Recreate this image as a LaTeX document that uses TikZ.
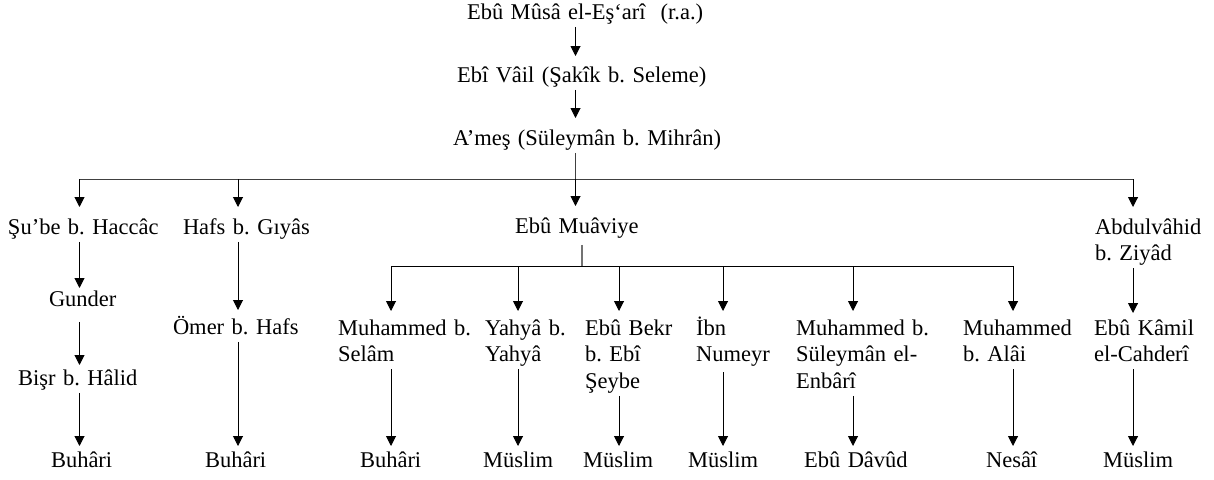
\documentclass[tikz,border=0pt]{standalone}
\usepackage{fontspec}
\setmainfont{Liberation Serif}
\usetikzlibrary{arrows.meta}
\begin{document}
\frenchspacing
\begin{tikzpicture}[x=1pt,y=-1pt,
  lbl/.style={anchor=base west, inner sep=0pt, outer sep=0pt, text width=320pt,
    align=left, font=\fontsize{22.5pt}{26.5pt}\selectfont\frenchspacing,
    text height=21pt, execute at end node=\strut},
  arr/.style={line width=1pt, -{Triangle[length=10pt,width=10pt]}},
  bus/.style={line width=1pt, draw=black!75},
  stub/.style={line width=1.1pt, draw=black!55},
]
\fill[white] (0,0) rectangle (1214,479);
\useasboundingbox (0,0) rectangle (1214,479);

% columns of the connectors
\coordinate (c1) at (79.5,0);
\coordinate (c2) at (238,0);
\coordinate (c3) at (575.5,0);
\coordinate (c4) at (1133,0);
\coordinate (m1) at (391,0);
\coordinate (m2) at (518,0);
\coordinate (m3) at (619,0);
\coordinate (m4) at (723,0);
\coordinate (m5) at (853,0);
\coordinate (m6) at (1013,0);
\coordinate (bus) at (575.5,179);
\coordinate (mbus) at (582,266);

% chain at the top
\node[lbl] (musa) at (467,19) {Ebû Mûsâ el-Eş‘arî\ \ (r.a.)};
\node[lbl, text height=26pt] (vail) at (457,82) {Ebî Vâil (Şakîk b. Seleme)};
\node[lbl, text height=27pt] (ames) at (453,145) {A’meş (Süleymân b. Mihrân)};

% students of A'meş
\node[lbl, text height=27pt] (shube) at (8,234) {Şu’be b. Haccâc};
\node[lbl, text height=27pt] (hafs) at (183,234) {Hafs b. Gıyâs};
\node[lbl, text height=27pt] (muaviye) at (515,233) {Ebû Muâviye};
\node[lbl, text height=27pt] (abdulvahid) at (1095,234) {Abdulvâhid\\b. Ziyâd};

% intermediate narrators
\node[lbl, text height=18pt] (gunder) at (49,306) {Gunder};
\node[lbl, text height=20pt] (bisr) at (18,385) {Bişr b. Hâlid};
\node[lbl, text height=24pt] (omer) at (173,334) {Ömer b. Hafs};
\node[lbl, text height=24pt] (selam) at (338,335) {Muhammed b.\\Selâm};
\node[lbl, text height=24pt] (yahya) at (485,335) {Yahyâ b.\\Yahyâ};
\node[lbl, text height=24pt] (seybe) at (585,335) {Ebû Bekr\\b. Ebî\\Şeybe};
\node[lbl, text height=24pt] (numeyr) at (696,335) {İbn\\Numeyr};
\node[lbl, text height=24pt] (enbari) at (796,335) {Muhammed b.\\Süleymân el-\\Enbârî};
\node[lbl, text height=24pt] (alai) at (963,335) {Muhammed\\b. Alâi};
\node[lbl, text height=22pt] (kamil) at (1094,335) {Ebû Kâmil\\el-Cahderî};

% collections
\node[lbl] (buh1) at (51,467) {Buhâri};
\node[lbl] (buh2) at (205,467) {Buhâri};
\node[lbl] (buh3) at (360,467) {Buhâri};
\node[lbl] (mus1) at (483,467) {Müslim};
\node[lbl] (mus2) at (583,467) {Müslim};
\node[lbl] (mus3) at (688,467) {Müslim};
\node[lbl] (davud) at (804,467) {Ebû Dâvûd};
\node[lbl] (nesai) at (986,467) {Nesâî};
\node[lbl] (mus4) at (1103,467) {Müslim};

% connectors of the top chain
\draw[arr] (musa.south -| c3) -- (vail.north -| c3);
\draw[arr] (vail.south -| c3) -- (ames.north -| c3);
\draw[bus] (ames.south -| c3) -- (bus);
\draw[bus] (bus -| c1) -- (bus -| c4);
\draw[arr] (bus -| c1) -- (shube.north -| c1);
\draw[arr] (bus -| c2) -- (hafs.north -| c2);
\draw[arr] (bus -| c3) -- (muaviye.north -| c3);
\draw[arr] (bus -| c4) -- (abdulvahid.north -| c4);

% Şu'be branch
\draw[arr] (shube.south -| c1) -- (gunder.north -| c1);
\draw[arr, shorten <=8pt] (gunder.south -| c1) -- (bisr.north -| c1);
\draw[arr] (bisr.south -| c1) -- (buh1.north -| c1);

% Hafs branch
\draw[arr] (hafs.south -| c2) -- (omer.north -| c2);
\draw[arr] (omer.south -| c2) -- (buh2.north -| c2);

% Ebû Muâviye branch
\draw[stub, shorten <=4pt] (muaviye.south -| mbus) -- (mbus);
\draw[line width=1pt] (mbus -| m1) -- (mbus -| m6);
\draw[arr] (mbus -| m1) -- (selam.north -| m1);
\draw[arr] (mbus -| m2) -- (yahya.north -| m2);
\draw[arr] (mbus -| m3) -- (seybe.north -| m3);
\draw[arr] (mbus -| m4) -- (numeyr.north -| m4);
\draw[arr] (mbus -| m5) -- (enbari.north -| m5);
\draw[arr] (mbus -| m6) -- (alai.north -| m6);
\draw[arr] (selam.south -| m1) -- (buh3.north -| m1);
\draw[arr] (yahya.south -| m2) -- (mus1.north -| m2);
\draw[arr] (seybe.south -| m3) -- (mus2.north -| m3);
\draw[arr, shorten <=3pt] (numeyr.south -| m4) -- (mus3.north -| m4);
\draw[arr] (enbari.south -| m5) -- (davud.north -| m5);
\draw[arr] (alai.south -| m6) -- (nesai.north -| m6);

% Abdulvâhid branch
\draw[arr] (abdulvahid.south -| c4) -- (kamil.north -| c4);
\draw[arr] (kamil.south -| c4) -- (mus4.north -| c4);
\end{tikzpicture}
\end{document}
